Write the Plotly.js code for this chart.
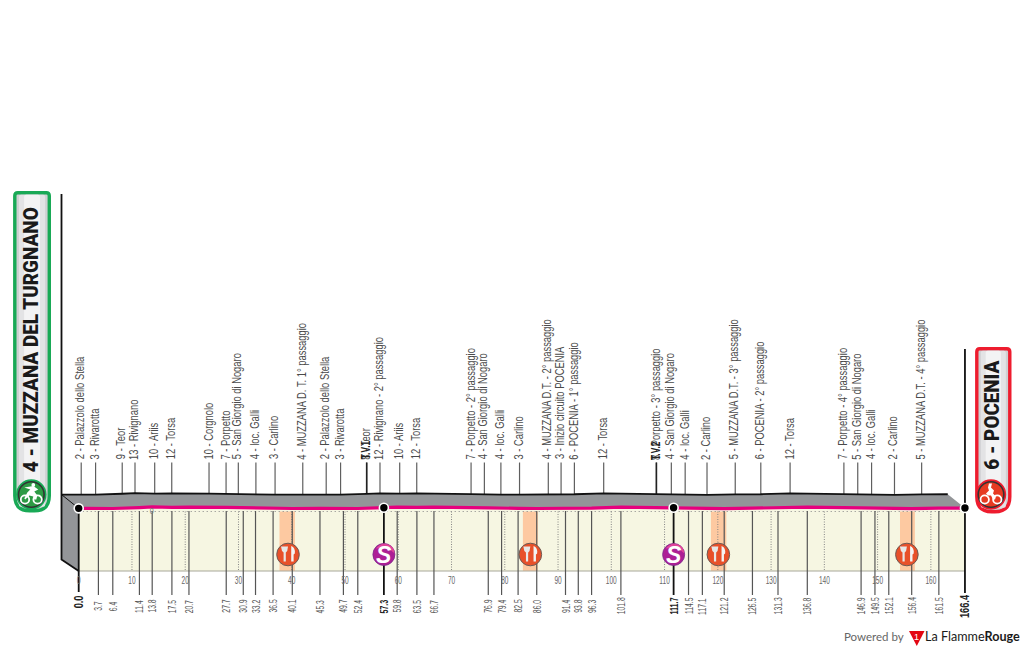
<!DOCTYPE html>
<html><head><meta charset="utf-8">
<script src="https://cdn.plot.ly/plotly-3.0.1.min.js"></script>
<style>html,body{margin:0;padding:0;background:#fff}#c{width:1024px;height:650px}</style>
</head><body><div id="c"></div>
<script>
// Stage data
const passKm = [0,3.7,6.4,11.4,13.8,17.5,20.7,27.7,30.9,33.2,36.5,40.1,45.3,49.7,52.4,57.3,59.8,63.5,66.7,76.9,79.4,82.5,86.0,91.4,93.8,96.3,101.8,111.7,114.5,117.1,121.2,126.5,131.3,136.8,146.9,149.5,152.1,156.4,161.5,166.4];
const passAlt = [4,2,3,9,13,10,12,10,7,5,4,3,4,2,3,8,12,10,12,7,4,4,3,4,3,6,12,8,4,4,2,5,6,12,7,5,4,2,5,6];
const passName = ["","Palazzolo dello Stella","Rivarotta","Teor","Rivignano","Ariis","Torsa","Corgnolo","Porpetto","San Giorgio di Nogaro","loc. Galli","Carlino","MUZZANA D. T. 1° passaggio","Palazzolo dello Stella","Rivarotta","Teor","Rivignano - 2° passaggio","Ariis","Torsa","Porpetto - 2° passaggio","San Giorgio di Nogaro","loc. Galli","Carlino","MUZZANA D.T. - 2° passaggio","Inizio circuito POCENIA","POCENIA - 1° passaggio","Torsa","Porpetto - 3° passaggio","San Giorgio di Nogaro","loc. Galli","Carlino","MUZZANA D.T. - 3° passaggio","POCENIA - 2° passaggio","Torsa","Porpetto - 4° passaggio","San Giorgio di Nogaro","loc. Galli","Carlino","MUZZANA D.T. - 4° passaggio",""];
const kmLabels = ["0.0","3.7","6.4","11.4","13.8","17.5","20.7","27.7","30.9","33.2","36.5","40.1","45.3","49.7","52.4","57.3","59.8","63.5","66.7","76.9","79.4","82.5","86.0","91.4","93.8","96.3","101.8","111.7","114.5","117.1","121.2","126.5","131.3","136.8","146.9","149.5","152.1","156.4","161.5","166.4"];
const boldKm = [0,57.3,111.7,166.4];
const sprintKm = [57.3,111.7];
const sprintTags = ["T.V.1","T.V.2"];
const feedStart = [37.7,83.4,118.7,154.2];
const feedEnd = [40.6,86.2,121.6,157.0];
const feedIcon = [39.3,84.8,120.1,155.5];
const tickKm = [0,10,20,30,40,50,60,70,80,90,100,110,120,130,140,150,160];
const startName = "4 - MUZZANA DEL TURGNANO";
const finishName = "6 - POCENIA";

// Drawing frame: page is 1024x650, km and metres map linearly onto it
const W=1024,H=650,x0=78.7,pxKm=5.326,y0=509,pxM=0.16;
const xOf=px=>(px-x0)/pxKm, yOf=px=>(y0-px)/pxM;
const perspKm=17.2/pxKm, ridgeM=13.8/pxM;
const baseM=yOf(571), dotM=yOf(511.5);
const lastKm=passKm[passKm.length-1];
const nan=null;
const segs=(xs,y1,y2)=>{const X=[],Y=[];xs.forEach((x,i)=>{X.push(x,x,nan);Y.push(typeof y1==='function'?y1(i):y1,typeof y2==='function'?y2(i):y2,nan)});return {x:X,y:Y}};
const line=(d,color,width,dash)=>({type:'scatter',mode:'lines',x:d.x,y:d.y,line:{color,width,dash:dash||'solid'},hoverinfo:'skip',showlegend:false,connectgaps:false});
const poly=(x,y,color)=>({type:'scatter',mode:'lines',x,y,fill:'toself',fillcolor:color,line:{width:0,color},hoverinfo:'skip',showlegend:false});

const ridgeX=passKm.map(k=>k-perspKm), ridgeY=passAlt.map(a=>a+ridgeM);
const traces=[];
traces.push(poly([...passKm,lastKm,0],[...passAlt,baseM,baseM],'#f6f6e2'));
feedStart.forEach((s,i)=>traces.push(poly([s,feedEnd[i],feedEnd[i],s],[dotM,dotM,baseM,baseM],'#fdc9a1')));
traces.push(line(segs(tickKm.slice(1),dotM,baseM),'#858585',1,'1px,1.5px'));
traces.push(line({x:[0,lastKm],y:[dotM,dotM]},'#858585',1,'1px,3px'));
traces.push(line({x:[0,lastKm],y:[baseM,baseM]},'#a8a89a',1));
const normal=passKm.filter((k,i)=>i>0&&i<passKm.length-1&&!boldKm.includes(k));
traces.push(line(segs(normal,yOf(511),yOf(595)),'#555555',1.2));
const wallBotPx=559.5;
traces.push(poly([...ridgeX,...passKm.slice().reverse(),0,-perspKm],[...ridgeY,...passAlt.slice().reverse(),baseM,yOf(wallBotPx)],'#939598'));
const upper=passKm.filter((k,i)=>i>0&&i<passKm.length-1);
const upperAlt=passAlt.filter((k,i)=>i>0&&i<passKm.length-1);
traces.push(line(segs(upper.map(k=>k-perspKm),i=>upperAlt[i]+ridgeM,yOf(462.5)),'#5f5f5f',1.2));
traces.push(line(segs(sprintKm.map(k=>k-perspKm),i=>ridgeM+8,yOf(462.5)),'#222222',1.6));
traces.push(line({x:ridgeX,y:ridgeY},'#111111',1.8));
traces.push(line({x:[-perspKm,-perspKm,0],y:[yOf(194),yOf(wallBotPx),baseM]},'#111111',1.8));
traces.push(line({x:[-perspKm,0],y:[ridgeY[0],passAlt[0]]},'#111111',1));
traces.push(line({x:[lastKm,lastKm],y:[yOf(349),yOf(593)]},'#111111',1.8));
traces.push(line(segs(sprintKm,passAlt[15],yOf(595)),'#111111',1.8));
traces.push(line({x:[0,0],y:[passAlt[0],yOf(592)]},'#111111',1.8));
traces.push(line({x:passKm.map((k,i)=>i==0?k+0.9:k),y:passAlt},'#e6007e',3.2));
const mk=boldKm.map(k=>passKm.indexOf(k));
traces.push({type:'scatter',mode:'markers',x:boldKm,y:mk.map(i=>passAlt[i]),marker:{size:9,color:'#000',line:{color:'#fff',width:1.6}},hoverinfo:'skip',showlegend:false});

// page-pixel helpers
const nx=x=>x/W, ny=y=>1-y/H;
const pathPx=s=>s.replace(/(-?[\d.]+)[ ,](-?[\d.]+)/g,(m,a,b)=>nx(+a).toFixed(5)+','+ny(+b).toFixed(5));
const shP=(path,fill,lc,lw)=>({type:'path',xref:'paper',yref:'paper',path:pathPx(path),fillcolor:fill,line:{color:lc||'rgba(0,0,0,0)',width:lw||0},layer:'above'});
const circ=(cx,cy,r,fill,lc,lw)=>({type:'circle',xref:'paper',yref:'paper',x0:nx(cx-r),x1:nx(cx+r),y0:ny(cy+r),y1:ny(cy-r),fillcolor:fill,line:{color:lc||'rgba(0,0,0,0)',width:lw||0},layer:'above'});
const rrect=(x,y,w,h,r,rb)=>`M${x+r} ${y} L${x+w-r} ${y} Q${x+w} ${y} ${x+w} ${y+r} L${x+w} ${y+h-rb} Q${x+w} ${y+h} ${x+w-rb} ${y+h} L${x+rb} ${y+h} Q${x} ${y+h} ${x} ${y+h-rb} L${x} ${y+r} Q${x} ${y} ${x+r} ${y} Z`;
const shapes=[];
function badge(x,y,w,h,color){
  shapes.push(shP(rrect(x,y,w,h,3,15),'#cfd0d2',color,3.4));
  shapes.push(shP(rrect(x+w*0.12,y+2,w*0.76,h-6,2,2),'#e3e3e5'));
  shapes.push(shP(rrect(x+w*0.27,y+2,w*0.46,h-6,2,2),'#f3f3f4'));
}
badge(14.8,192.8,34.5,318,'#19a956');
badge(976.8,348.8,33,163,'#ee1c2e');
function rider(cx,cy,ring,inner,tall){
  shapes.push(circ(cx,cy,15.2,ring));
  shapes.push(circ(cx,cy,13.6,'#333333'));
  shapes.push(circ(cx,cy,12,inner));
  shapes.push(circ(cx-6.3,cy+5,4.2,'rgba(0,0,0,0)','#fff',1.8));
  shapes.push(circ(cx+6.3,cy+5,4.2,'rgba(0,0,0,0)','#fff',1.8));
  const p=(a,b)=>`${cx+a} ${cy+b}`;
  if(tall){
    shapes.push(shP(`M${p(-2,-11)} L${p(1,-11)} L${p(0,-7)} L${p(3,-4)} L${p(2,-1)} L${p(5,2)} L${p(4,5)} L${p(2,5)} L${p(0,1)} L${p(-3,1)} L${p(-5,-1)} L${p(-2,-4)} L${p(-3,-7)} Z`,'#fff'));
  } else {
    shapes.push(shP(`M${p(-7,-7)} L${p(2,-8.5)} L${p(7,-5)} L${p(3,-3)} L${p(6,1)} L${p(5,5)} L${p(3,5)} L${p(2,2)} L${p(-2,1)} L${p(-6,5)} L${p(-7,4)} L${p(-4,-2)} L${p(-1,-5)} Z`,'#fff'));
    shapes.push(circ(cx+2,cy-9.5,1.9,'#fff'));
  }
}
rider(31.3,494.5,'#19a956','#2d9a44',false);
rider(991,494.5,'#ee1c2e','#e63a22',true);
feedIcon.forEach(k=>{
  const cx=x0+k*pxKm,cy=554.5;
  shapes.push(circ(cx,cy,11.3,'#e8502a','#6b5a55',1));
  const p=(a,b)=>`${cx+a} ${cy+b}`;
  shapes.push(shP(`M${p(-7,-8)} L${p(-6,-3.5)} L${p(-4.4,-2)} L${p(-4.4,7)} L${p(-2.2,7)} L${p(-2.2,-2)} L${p(-0.8,-3.5)} L${p(0,-8)} Z`,'#e7e7e7'));
  shapes.push(shP(`M${p(3.2,-8.5)} Q${p(7.5,-7)} ${p(6.8,-1)} L${p(5.6,0)} L${p(5.6,7)} L${p(3.2,7)} Z`,'#f3f3f3'));
});
sprintKm.forEach(k=>{
  const cx=x0+k*pxKm,cy=554.5;
  shapes.push(circ(cx,cy,11,'#ad1f95','#7a2a8a',0.8));
  shapes.push(shP(`M${cx} ${cy-11} Q${cx+10} ${cy-10} ${cx+10.7} ${cy-1} Q${cx+4} ${cy-8} ${cx-8} ${cy-6} Q${cx-5} ${cy-10} ${cx} ${cy-11} Z`,'#e0449a'));
});
shapes.push(shP('M909 631 L924.5 631 L916.8 646 Z','#e30613'));

// text; each annotation gets a squeeze: glyphs are condensed after drawing as in the reference's narrow font
const narrow='"Liberation Sans",Arial,sans-serif';
const sans='"Liberation Sans",Arial,sans-serif';
const heavy='Roboto,"Liberation Sans",Arial,sans-serif';
const ann=[],squeeze=[];
const add=(a,f)=>{ann.push(Object.assign({showarrow:false,borderpad:0,borderwidth:0},a));squeeze.push(f||null)};
const T=(text,xp,yp,o,f)=>add(Object.assign({text,xref:'paper',yref:'paper',x:nx(xp),y:ny(yp),font:{family:narrow,size:11,color:'#444'}},o),f);
passKm.forEach((k,i)=>{
  if(passName[i]){
    add({text:passAlt[i]+' - '+passName[i],xref:'x',yref:'paper',x:k-perspKm-0.1,y:ny(459.5),xanchor:'center',yanchor:'bottom',textangle:-90,font:{family:narrow,size:12,color:'#4a4a4a'}},{f:0.78,end:'start'});
  }
  const b=boldKm.includes(k);
  const big=(k===0||k===lastKm);
  add({text:kmLabels[i],xref:'x',yref:'paper',x:k,y:big?ny(595):ny(606),xanchor:'center',yanchor:big?'top':'middle',textangle:-90,font:{family:narrow,size:big?12:10.5,color:b?'#222':'#555',weight:b?700:400}},{f:big?0.77:(b?0.68:0.65),end:big?'stop':'mid'});
});
sprintKm.forEach((k,i)=>{
  add({text:sprintTags[i],xref:'x',yref:'paper',x:k-perspKm-0.1,y:ny(459.5),xanchor:'center',yanchor:'bottom',textangle:-90,font:{family:narrow,size:12,color:'#222',weight:700}},{f:0.7,end:'start'});
});
sprintKm.forEach(k=>{
  add({text:'S',xref:'x',yref:'paper',x:k,y:ny(554.5),xanchor:'center',yanchor:'middle',font:{family:sans,size:23,color:'#fff',weight:700,style:'italic'}});
});
T('0',151,510.5,{xanchor:'center',yanchor:'middle',font:{family:narrow,size:9.5,color:'#777'}},{f:0.75,end:'mid'});
T(startName,30.8,472.5,{xanchor:'center',yanchor:'bottom',textangle:-90,font:{family:heavy,size:21,color:'#1a1a1a',weight:900}},{len:265,end:'start'});
T(finishName,991.7,470,{xanchor:'center',yanchor:'bottom',textangle:-90,font:{family:heavy,size:21,color:'#1a1a1a',weight:900}},{len:109,end:'start'});
T('1',916.8,636.5,{xanchor:'center',yanchor:'middle',font:{family:sans,size:9,color:'#fff'}});
T('Powered by',844,636.5,{xanchor:'left',yanchor:'middle',font:{family:'Lato,sans-serif',size:11.5,color:'#666'}});
T('La Flamme<b>Rouge</b>',925,636.5,{xanchor:'left',yanchor:'middle',font:{family:'Lato,sans-serif',size:12.6,color:'#1a1a1a'}});

const layout={
  width:W,height:H,margin:{l:0,r:0,t:0,b:0,pad:0},paper_bgcolor:'#fff',plot_bgcolor:'#fff',showlegend:false,
  xaxis:{range:[xOf(0),xOf(W)],showgrid:false,zeroline:false,showline:false,ticks:'',tickmode:'array',tickvals:tickKm,ticktext:tickKm.map(String),anchor:'free',position:ny(571),side:'bottom',ticklabelstandoff:1,tickfont:{family:narrow,size:10.5,color:'#666'},automargin:false,fixedrange:true},
  yaxis:{range:[yOf(H),yOf(0)],visible:false,fixedrange:true},
  shapes,annotations:ann
};
function condense(el,target){
  el.setAttribute('lengthAdjust','spacingAndGlyphs');
  el.setAttribute('textLength',target.toFixed(2));
}
Plotly.newPlot('c',traces,layout,{displayModeBar:false,staticPlot:true}).then(gd=>{
  gd.querySelectorAll('.annotation').forEach(g=>{
    const s=squeeze[+g.getAttribute('data-index')];
    if(!s) return;
    const t=g.querySelector('.annotation-text');
    if(!t) return;
    const L=t.getComputedTextLength();
    const target=s.len||L*s.f;
    condense(t,target);
    const shift=(L-target)/2;
    const x=parseFloat(t.getAttribute('x')||0);
    if(s.end==='start') t.setAttribute('x',x-shift);
    if(s.end==='stop') t.setAttribute('x',x+shift);
  });
  gd.querySelectorAll('.xtick text').forEach(t=>{condense(t,t.getComputedTextLength()*0.62)});
});
</script></body></html>
